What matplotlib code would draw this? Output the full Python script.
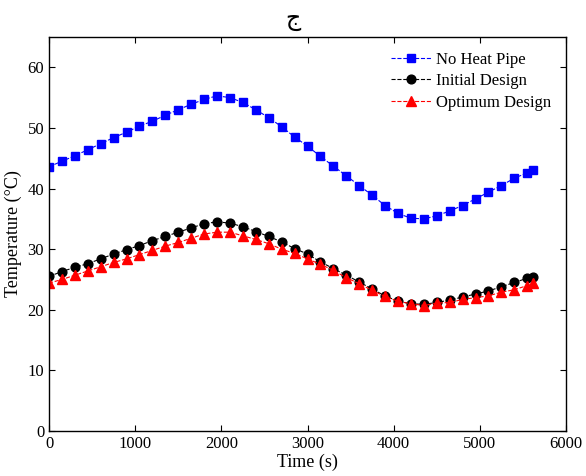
import matplotlib
matplotlib.use("Agg")
import matplotlib.pyplot as plt

# time in seconds
time_s = [0, 150, 300, 450, 600, 750, 900, 1050, 1200, 1350, 1500, 1650, 1800,
          1950, 2100, 2250, 2400, 2550, 2700, 2850, 3000, 3150, 3300, 3450, 3600,
          3750, 3900, 4050, 4200, 4350, 4500, 4650, 4800, 4950, 5100, 5250, 5400,
          5550, 5620]

no_heat_pipe = [43.6, 44.5, 45.4, 46.4, 47.4, 48.4, 49.3, 50.3, 51.1, 52.1, 53.0,
                53.9, 54.7, 55.3, 55.0, 54.2, 53.0, 51.7, 50.2, 48.5, 47.0, 45.3,
                43.7, 42.1, 40.5, 38.9, 37.2, 35.9, 35.1, 35.0, 35.5, 36.3, 37.2,
                38.3, 39.4, 40.5, 41.7, 42.6, 43.0]

initial_design = [25.5, 26.3, 27.0, 27.6, 28.4, 29.2, 29.9, 30.6, 31.4, 32.1, 32.8,
                  33.5, 34.2, 34.5, 34.3, 33.7, 32.9, 32.1, 31.2, 30.1, 29.2, 27.9,
                  26.8, 25.7, 24.6, 23.4, 22.3, 21.4, 21.0, 20.9, 21.2, 21.6, 22.1,
                  22.6, 23.1, 23.8, 24.5, 25.2, 25.4]

optimum_design = [24.4, 25.0, 25.7, 26.4, 27.1, 27.8, 28.4, 29.1, 29.8, 30.5, 31.1,
                  31.8, 32.5, 32.8, 32.8, 32.2, 31.6, 30.9, 30.0, 29.3, 28.4, 27.5,
                  26.5, 25.3, 24.3, 23.2, 22.2, 21.4, 21.0, 20.7, 21.1, 21.2, 21.7,
                  22.0, 22.3, 22.9, 23.3, 24.0, 24.4]

plt.rcParams['font.family'] = ['Liberation Serif', 'DejaVu Sans']

fig = plt.figure(figsize=(5.86, 4.76), dpi=100)
ax = fig.add_axes([49 / 586, 45 / 476, (566 - 49) / 586, (431 - 37) / 476])

ax.plot(time_s, no_heat_pipe, '--', color='blue', marker='s', markersize=6,
        linewidth=0.8, label='No Heat Pipe')
ax.plot(time_s, initial_design, '--', color='black', marker='o', markersize=6.3,
        linewidth=0.8, label='Initial Design')
ax.plot(time_s, optimum_design, '--', color='red', marker='^', markersize=6.8,
        linewidth=0.8, label='Optimum Design')

ax.set_xlim(0, 6000)
ax.set_ylim(0, 65)
ax.set_xticks(range(0, 6001, 1000))
ax.set_yticks(range(0, 61, 10))
ax.tick_params(direction='in', top=True, right=True, labelsize=12, length=4)
for s in ax.spines.values():
    s.set_linewidth(1.0)

ax.set_xlabel('Time (s)', fontsize=13, labelpad=1)
ax.set_ylabel('Temperature (°C)', fontsize=13, labelpad=4)
ax.set_title('ج', fontsize=17, fontweight='normal', family='DejaVu Sans',
             pad=9, x=0.472)

ax.legend(loc='upper right', frameon=False, fontsize=12, handlelength=2.4,
          handletextpad=0.3, labelspacing=0.32, borderaxespad=0.5)

fig.savefig('out.png', dpi=100)
